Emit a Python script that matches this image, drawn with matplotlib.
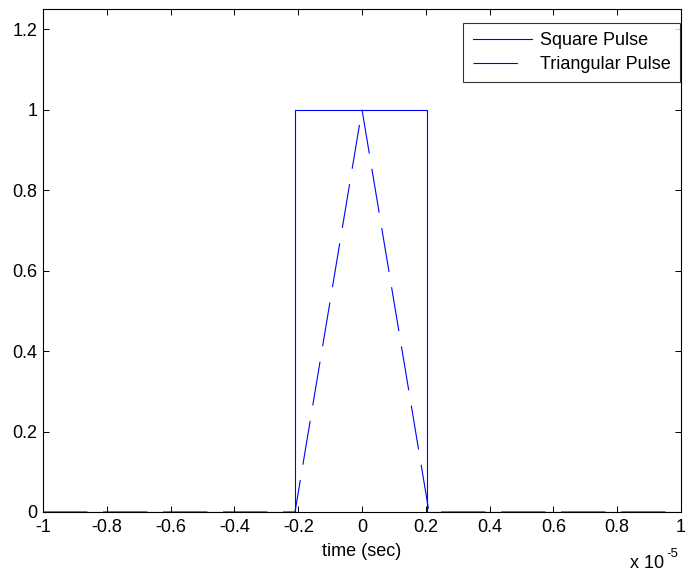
import numpy as np
import matplotlib
matplotlib.use("Agg")
import matplotlib.pyplot as plt

plt.rcParams['font.family'] = ['Liberation Sans', 'DejaVu Sans']

# data (time in seconds)
sq_t = [-1e-5, -0.21e-5, -0.21e-5, 0.205e-5, 0.205e-5, 1e-5]
sq_v = [0, 0, 1, 1, 0, 0]
tri_t = [-1e-5, -0.21e-5, 0.0, 0.21e-5, 1e-5]
tri_v = [0, 0, 1, 0, 0]
xticks = [-1, -0.8, -0.6, -0.4, -0.2, 0, 0.2, 0.4, 0.6, 0.8, 1]
yticks = [0, 0.2, 0.4, 0.6, 0.8, 1, 1.2]

FS = 13
fig = plt.figure(figsize=(6.86, 5.74), dpi=100)
ax = fig.add_axes([43/686, 1-512/574, (681-43)/686, (512-9)/574])

ax.plot(sq_t, sq_v, color='#0000ff', lw=0.8, label='Square Pulse')
ax.plot(tri_t, tri_v, color='#0000ff', lw=0.8, dashes=(40, 14), label='Triangular Pulse')

ax.set_xlim(-1e-5, 1e-5)
ax.set_ylim(0, 1.25)
ax.set_xticks([v * 1e-5 for v in xticks])
ax.set_xticklabels([f"{v:g}" for v in xticks])
ax.set_yticks(yticks)
ax.set_yticklabels([f"{v:g}" for v in yticks])
ax.tick_params(direction='in', top=True, right=True, labelsize=FS, length=4, width=0.7)
ax.tick_params(axis='x', pad=5)
ax.tick_params(axis='y', pad=4)
for s in ax.spines.values():
    s.set_linewidth(0.8)
ax.set_xlabel('time (sec)', fontsize=FS, labelpad=5)
fig.text(664/686, 1-568/574, 'x 10', fontsize=FS, va='baseline', ha='right')
fig.text(666/686, 1-557/574, '-5', fontsize=9.5, va='baseline', ha='left')

leg = ax.legend(loc='upper right', fontsize=FS, frameon=True, fancybox=False, edgecolor='black',
                handlelength=3.3, handletextpad=0.45, borderaxespad=0.0, borderpad=0.5,
                labelspacing=0.4)
leg.set_bbox_to_anchor((680/686, 1-23/574), transform=fig.transFigure)
leg.get_frame().set_linewidth(0.8)

fig.savefig('out.png', dpi=100)
